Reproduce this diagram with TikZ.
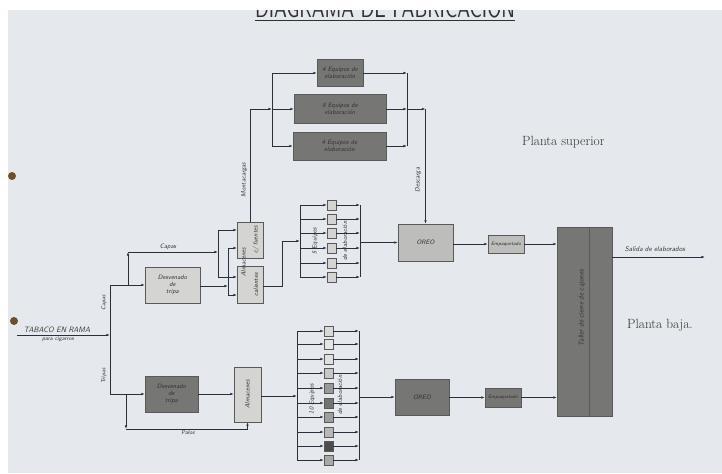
\documentclass[tikz,border=0pt]{standalone}
\usepackage{tikz}
\usepackage{graphicx}
\usetikzlibrary{arrows.meta}

\definecolor{paper}{HTML}{E5E9ED}
\definecolor{ink}{HTML}{28303F}
\definecolor{pencil}{HTML}{303030}
\definecolor{lightfill}{HTML}{D4D4D2}
\definecolor{midfill}{HTML}{BDBDBB}
\definecolor{darkfill}{HTML}{767674}
\definecolor{hole}{HTML}{6E4E2E}

\def\px{0.05cm}

\tikzset{
  conn/.style={draw=ink, line width=1pt},
  box/.style={draw=pencil!80, line width=0.5pt, inner sep=1pt, align=center,
    font=\sffamily\itshape\fontsize{9}{10}\selectfont, text=pencil},
  lightbox/.style={box, fill=lightfill},
  midbox/.style={box, fill=midfill},
  darkbox/.style={box, fill=darkfill},
  cell/.style={draw=pencil!80, line width=0.5pt, minimum width=9*\px,
    minimum height=10*\px, inner sep=0pt},
  lbl/.style={font=\sffamily\itshape\fontsize{9}{10}\selectfont, text=pencil, inner sep=1pt},
  planta/.style={font=\fontsize{19}{22}\selectfont, text=pencil, inner sep=0pt}
}

\begin{document}
\begin{tikzpicture}[x=0.05cm, y=-0.05cm, >={Latex[length=5pt,width=3.6pt]}]
    \useasboundingbox (0,0) rectangle (722,473);
    \fill[paper] (0,0) rectangle (722,473);

    % title, cut by the sheet edge
    \node[anchor=base, inner sep=0pt, text=pencil] (title) at (385,17)
        {\resizebox{13cm}{0.95cm}{\sffamily DIAGRAMA DE FABRICACION}};
    \draw[pencil, line width=0.8pt] (255,20) -- (515,20);
    \fill[white] (0,0) rectangle (722,10);
    \fill[white] (0,0) rectangle (8,473);
    \fill[hole] (12,176) circle (4);
    \fill[hole] (14,321) circle (4);

    % upper floor
    \node[darkbox, minimum width=46*\px, minimum height=27*\px] (eq1) at (340,73) {4 Equipos de\\elaboración};
    \node[darkbox, minimum width=92*\px, minimum height=29*\px] (eq2) at (340,109) {8 Equipos de\\elaboración};
    \node[darkbox, minimum width=93*\px, minimum height=28*\px] (eq3) at (339.5,146) {4 Equipos de\\elaboración};

    \node[lightbox, minimum width=55*\px, minimum height=36*\px] (tripa1) at (172.5,285) {Desvenado\\de\\tripa};
    \node[lightbox, minimum width=26*\px, minimum height=36*\px] (almA) at (250,240) {};
    \node[lightbox, minimum width=26*\px, minimum height=37*\px] (almB) at (250,284.5) {};
    \node[lbl, rotate=90] (almtxt) at (243.5,262) {Almacenes};
    \node[lbl, rotate=90] (fuentes) at (256,240) {c/ fuentes};
    \node[lbl, rotate=90] (calientes) at (256,285) {calientes};

    \node[midbox, minimum width=55*\px, minimum height=37*\px] (oreo1) at (425.5,242.5) {OREO};
    \node[midbox, minimum width=36*\px, minimum height=18*\px, font=\sffamily\itshape\fontsize{7}{8}\selectfont] (emp1) at (506,244) {Empaquetado};

    \node[darkbox, minimum width=55*\px, minimum height=189*\px] (taller) at (584.5,321.5) {};
    \draw[pencil!80, line width=0.5pt] (589,227) -- (589,416);
    \node[lbl, rotate=90, font=\sffamily\itshape\fontsize{10}{11}\selectfont] (tallertxt) at (582,308) {Taller de cierre de cajones};

    % lower floor
    \node[darkbox, minimum width=53*\px, minimum height=36*\px] (tripa2) at (171.5,394) {Desvenado\\de\\tripa};
    \node[lightbox, minimum width=27*\px, minimum height=55*\px] (alm2) at (247.5,394.5) {};
    \node[lbl, rotate=90] (alm2txt) at (247.5,394.5) {Almacenes};
    \node[darkbox, minimum width=54*\px, minimum height=36*\px] (oreo2) at (422,397) {OREO};
    \node[darkbox, minimum width=36*\px, minimum height=19*\px, font=\sffamily\itshape\fontsize{7}{8}\selectfont] (emp2) at (503,397.5) {Empaquetado};

    % entry
    \coordinate (src) at (17,335);
    \coordinate (jin) at (110,335);
    \coordinate (jtop) at (110,285);
    \coordinate (jbot) at (110,394);
    \draw[conn,->] (src) -- (jin);
    \draw[conn] (jtop) -- (jbot);
    \node[lbl, anchor=south, font=\sffamily\itshape\fontsize{11}{12}\selectfont] (tabaco) at (57,334) {TABACO EN RAMA};
    \node[lbl, anchor=north, font=\sffamily\itshape\fontsize{8}{9}\selectfont] (cigarros) at (58,336) {para cigarros};
    \node[lbl, rotate=90, font=\sffamily\itshape\fontsize{8}{9}\selectfont] (capasv) at (104,303) {Capas};
    \node[lbl, rotate=90, font=\sffamily\itshape\fontsize{8}{9}\selectfont] (tripasv) at (104,376) {Tripas};

    % capas and tripa to the stores
    \coordinate (jcap) at (128,285);
    \coordinate (jcap2) at (128,252);
    \coordinate (ja) at (218,252);
    \coordinate (jb) at (228,286);
    \draw[conn,->] (jtop) -- (tripa1.west);
    \draw[conn,->] (jcap) -- (jcap2);
    \draw[conn,->] (jcap2) -- (ja);
    \node[lbl, anchor=south] (capas) at (168,251) {Capas};
    \draw[conn] (218,230) -- (218,277);
    \draw[conn,->] (218,230) -- (237,230);
    \draw[conn,->] (218,277) -- (237,277);
    \draw[conn,->] (tripa1.east |- jb) -- (jb);
    \draw[conn] (228,248) -- (228,295);
    \draw[conn,->] (228,248) -- (237,248);
    \draw[conn,->] (228,295) -- (237,295);

    % hoist to the upper teams
    \coordinate (mup) at (272,109);
    \draw[conn,->] (almA.north) |- (mup);
    \node[lbl, rotate=90] (monta) at (244,180) {Montacargas};
    \draw[conn] (272,73) -- (272,146);
    \draw[conn,->] (272,73) -- (eq1.west);
    \draw[conn,->] (mup) -- (eq2.west);
    \draw[conn,->] (272,146) -- (eq3.west);
    \draw[conn,->] (eq1.east) -- (407,73);
    \draw[conn,->] (eq2.east) -- (407,109);
    \draw[conn,->] (eq3.east) -- (407,146);
    \draw[conn] (407,73) -- (407,146);
    \coordinate (jdesc) at (425.5,109);
    \draw[conn,->] (407,109) -- (jdesc);
    \draw[conn,->] (jdesc) -- (oreo1.north);
    \node[lbl, rotate=90] (descarga) at (418,180) {Descarga};

    % upper stack of teams
    \coordinate (jst) at (282,241);
    \draw[conn] (almB.east |- 0,286) -- (282,286) -- (jst);
    \draw[conn,->] (jst) -- (300,241);
    \draw[conn] (300,205) -- (300,277);
    \draw[conn] (360,205) -- (360,277);
    \foreach \y [count=\i] in {205,219,233,248,263,277} {
        \node[cell, fill=lightfill] (c\i) at (331.5,\y) {};
        \draw[conn,->] (300,\y) -- (c\i.west);
        \draw[conn,->] (c\i.east) -- (360,\y);
    }
    \node[lbl, rotate=90] (eq5a) at (315,241) {5 Equipos};
    \node[lbl, rotate=90] (eq5b) at (345,241) {de elaboración};
    \draw[conn,->] (360,242.5) -- (oreo1.west);
    \draw[conn,->] (oreo1.east |- emp1) -- (emp1.west);
    \draw[conn,->] (emp1.east) -- (taller.west |- emp1);

    % exit
    \coordinate (salida) at (705,257);
    \draw[conn,->] (taller.east |- salida) -- (salida);
    \node[lbl, anchor=south, font=\sffamily\itshape\fontsize{10}{11}\selectfont] (salidatxt) at (655,252) {Salida de elaborados};

    % lower chain
    \coordinate (jpal) at (126,394);
    \coordinate (jpal2) at (126,429);
    \draw[conn,->] (jbot) -- (tripa2.west);
    \draw[conn,->] (jpal) -- (jpal2);
    \draw[conn,->] (jpal2) -| (alm2.south);
    \node[lbl, anchor=north, font=\sffamily\itshape\fontsize{8}{9}\selectfont] (palos) at (188,430) {Palos};
    \draw[conn,->] (tripa2.east) -- (alm2.west |- tripa2);
    \draw[conn,->] (alm2.east |- 0,396) -- (297,396);
    \draw[conn] (297,331) -- (297,460);
    \draw[conn] (359,331) -- (359,460);
    \foreach \y/\g [count=\i] in {331/15,344/10,359/12,373/22,388/40,403/55,417/38,432/28,446/70,460/34} {
        \node[cell, fill=black!\g] (d\i) at (328.5,\y) {};
        \draw[conn,->] (297,\y) -- (d\i.west);
        \draw[conn,->] (d\i.east) -- (359,\y);
    }
    \node[lbl, rotate=90] (eq10a) at (312,399) {10 Equipos};
    \node[lbl, rotate=90] (eq10b) at (340,395) {de elaboración};
    \draw[conn,->] (359,397) -- (oreo2.west);
    \draw[conn,->] (oreo2.east |- emp2) -- (emp2.west);
    \draw[conn,->] (emp2.east) -- (taller.west |- emp2);

    % floor names
    \node[planta, anchor=west] (superior) at (522,142) {Planta superior};
    \node[planta, anchor=west] (baja) at (627,325) {Planta baja.};
\end{tikzpicture}
\end{document}
